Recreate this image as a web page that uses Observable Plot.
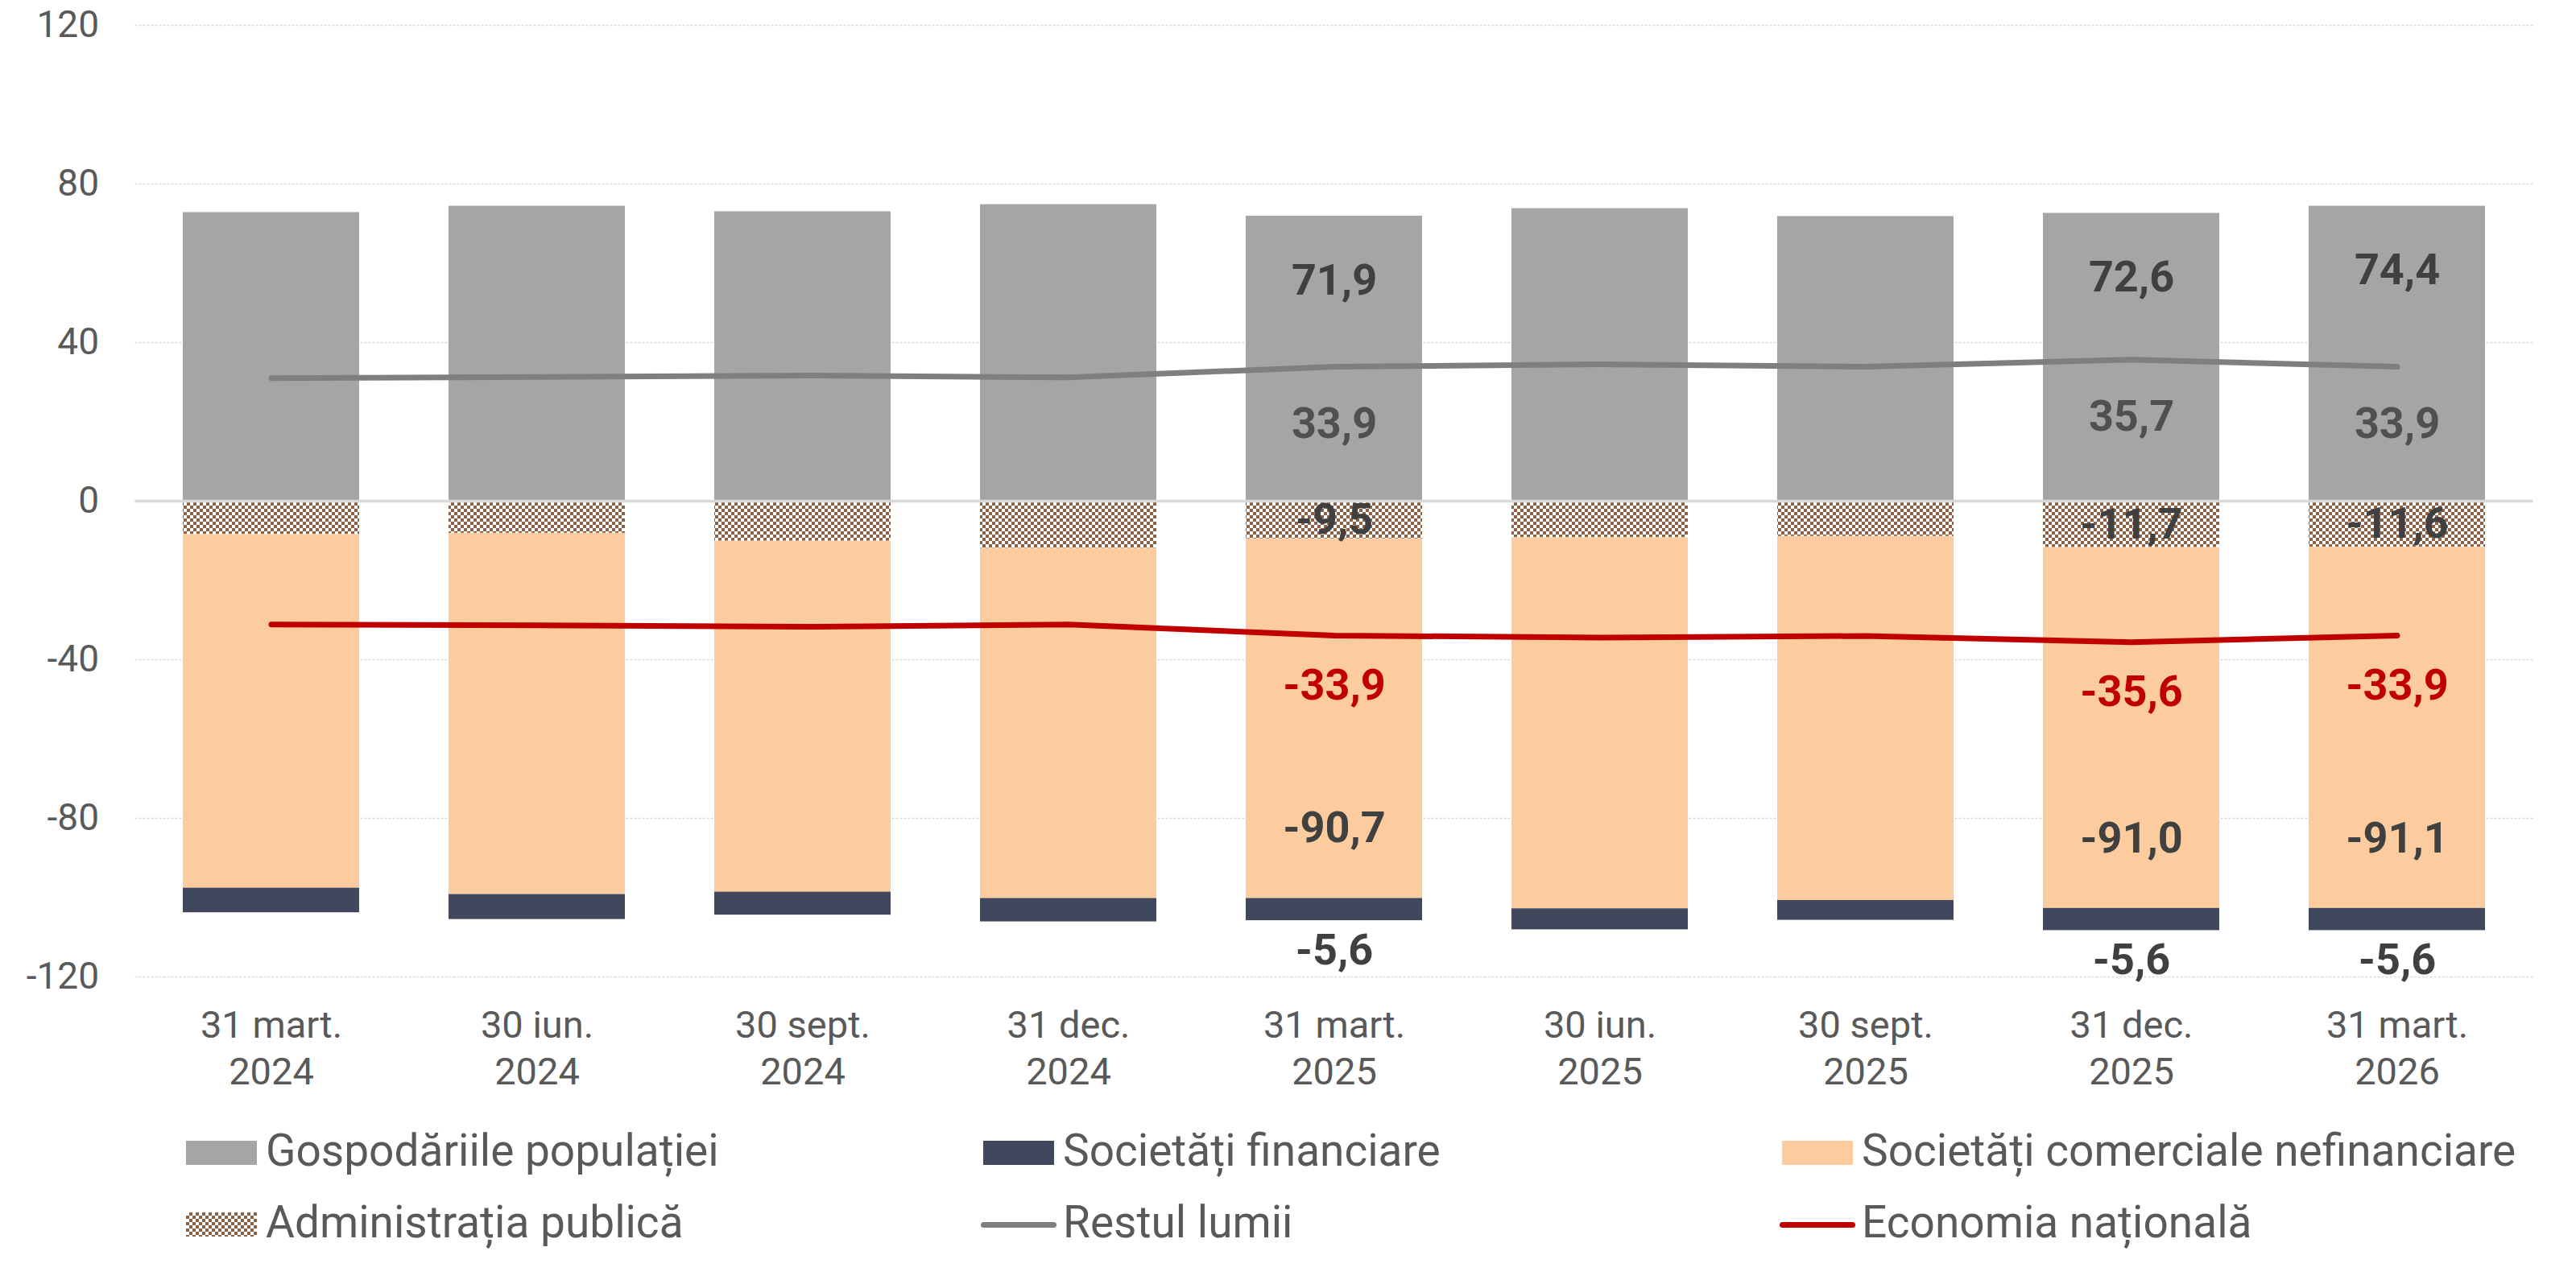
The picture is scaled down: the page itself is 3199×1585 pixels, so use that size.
<!DOCTYPE html>
<html><head><meta charset="utf-8">
<script src="https://cdn.jsdelivr.net/npm/d3@7"></script>
<script src="https://cdn.jsdelivr.net/npm/@observablehq/plot@0.6"></script>
<style>
body{margin:0;background:#fff;font-family:Roboto, sans-serif;}
#chart svg{display:block;}
#legend{position:relative;width:3199px;height:205px;}
.item{position:absolute;display:flex;align-items:center;height:60px;font-size:55px;line-height:60px;color:#595959;white-space:nowrap;}
.item span{position:relative;top:-3px;}
.sw{width:88px;height:30px;margin-right:11px;flex:none;}
.ln{width:94px;height:7px;border-radius:4px;margin-right:8px;flex:none;}
</style></head><body>
<div id="chart"></div><div id="legend"></div>
<script>
const categories = ["31 mart.\n2024","30 iun.\n2024","30 sept.\n2024","31 dec.\n2024","31 mart.\n2025","30 iun.\n2025","30 sept.\n2025","31 dec.\n2025","31 mart.\n2026"];
const seriesNames = ["Gospodăriile populației","Administrația publică","Societăți comerciale nefinanciare","Societăți financiare"];
const gospodarii    = [72.8, 74.4, 73.0, 74.8, 71.9, 73.8, 71.8, 72.6, 74.4];
const administratie = [-8.4, -8.1, -10.1, -11.9, -9.5, -9.2, -8.9, -11.7, -11.6];
const nefinanciare  = [-89.2, -91.1, -88.5, -88.3, -90.7, -93.6, -91.8, -91.0, -91.1];
const financiare    = [-6.2, -6.3, -5.8, -5.9, -5.6, -5.3, -5.0, -5.6, -5.6];
const restulLumii   = [31.0, 31.3, 31.7, 31.2, 33.9, 34.5, 33.9, 35.7, 33.9];
const economiaNationala = [-31.1, -31.3, -31.7, -31.1, -33.9, -34.4, -34.0, -35.6, -33.9];
const labeledIdx = [4, 7, 8];
const yTicks = [-120, -80, -40, 0, 40, 80, 120];

const colors = {
  "Gospodăriile populației": "#a5a5a5",
  "Administrația publică": "url(#adminPat)",
  "Societăți comerciale nefinanciare": "#fccc9f",
  "Societăți financiare": "#41475c"
};
const seriesValues = [gospodarii, administratie, nefinanciare, financiare];

const bars = [];
categories.forEach((c, i) => {
  seriesNames.forEach((s, k) => bars.push({cat: c, series: s, value: seriesValues[k][i]}));
});
const lineR = categories.map((c, i) => ({cat: c, v: restulLumii[i]}));
const lineE = categories.map((c, i) => ({cat: c, v: economiaNationala[i]}));

const fmt = v => v.toFixed(1).replace(".", ",");
const L = labeledIdx.map(i => ({
  cat: categories[i],
  gosp: gospodarii[i], gospT: fmt(gospodarii[i]),
  rest: restulLumii[i], restT: fmt(restulLumii[i]),
  admMid: administratie[i] / 2, admT: fmt(administratie[i]),
  nefBot: administratie[i] + nefinanciare[i], nefT: fmt(nefinanciare[i]),
  finBot: administratie[i] + nefinanciare[i] + financiare[i], finT: fmt(financiare[i]),
  econ: economiaNationala[i], econT: fmt(economiaNationala[i])
}));

const lblBase = {x: "cat", fontSize: 54, fontWeight: 700, fontFamily: "Roboto"};

const chart = Plot.plot({
  width: 3199,
  height: 1380,
  marginTop: 31,
  marginBottom: 167,
  marginLeft: 167.5,
  marginRight: 53.5,
  style: {fontFamily: "Roboto", background: "#fff"},
  x: {domain: categories, paddingInner: 0.335, paddingOuter: 0.1675, label: null},
  y: {domain: [-120, 120], label: null},
  color: {domain: seriesNames, range: seriesNames.map(s => colors[s])},
  marks: [
    Plot.ruleY(yTicks.filter(t => t !== 0), {stroke: "#d9d9d9", strokeWidth: 1.5, strokeDasharray: "3,2"}),
    Plot.axisY({ticks: yTicks, tickSize: 0, tickPadding: 45, fontSize: 46, fill: "#595959", tickFormat: d => String(d), label: null}),
    Plot.axisX({tickSize: 0, tickPadding: 35, fontSize: 47, fill: "#595959", lineHeight: 1.22, tickFormat: d => d, label: null}),
    Plot.barY(bars, Plot.stackY({x: "cat", y: "value", fill: "series", order: seriesNames, inset: 0})),
    Plot.ruleY([0], {stroke: "#d9d9d9", strokeWidth: 3.5}),
    Plot.line(lineR, {x: "cat", y: "v", stroke: "#7f7f7f", strokeWidth: 7, strokeLinecap: "round", strokeLinejoin: "round"}),
    Plot.line(lineE, {x: "cat", y: "v", stroke: "#c00000", strokeWidth: 7, strokeLinecap: "round", strokeLinejoin: "round"}),
    Plot.text(L, {...lblBase, y: "gosp", text: "gospT", dy: 80, fill: "#404040"}),
    Plot.text(L, {...lblBase, y: "rest", text: "restT", dy: 71, fill: "#505050"}),
    Plot.text(L, {...lblBase, y: "admMid", text: "admT", fill: "#404040"}),
    Plot.text(L, {...lblBase, y: "econ", text: "econT", dy: 62, fill: "#c00000"}),
    Plot.text(L, {...lblBase, y: "nefBot", text: "nefT", dy: -87, fill: "#404040"}),
    Plot.text(L, {...lblBase, y: "finBot", text: "finT", dy: 37, fill: "#404040"})
  ]
});

d3.select(chart).insert("defs", ":first-child").html(
  '<pattern id="adminPat" patternUnits="userSpaceOnUse" width="8" height="8">' +
  '<rect width="8" height="8" fill="#ffffff"/>' +
  '<rect width="4" height="4" fill="#8b6246"/>' +
  '<rect x="4" y="4" width="4" height="4" fill="#8b6246"/></pattern>'
);
document.getElementById("chart").appendChild(chart);

// Legend
const legendItems = [
  {name: "Gospodăriile populației", type: "box", color: "#a5a5a5", left: 231, row: 0},
  {name: "Societăți financiare", type: "box", color: "#41475c", left: 1221, row: 0},
  {name: "Societăți comerciale nefinanciare", type: "box", color: "#fccc9f", left: 2213, row: 0},
  {name: "Administrația publică", type: "pattern", left: 231, row: 1},
  {name: "Restul lumii", type: "line", color: "#7f7f7f", left: 1218, row: 1},
  {name: "Economia națională", type: "line", color: "#c00000", left: 2210, row: 1}
];
const rowCenters = [52, 141];
const leg = document.getElementById("legend");
legendItems.forEach(it => {
  const d = document.createElement("div");
  d.className = "item";
  d.style.left = it.left + "px";
  d.style.top = (rowCenters[it.row] - 30) + "px";
  const sw = document.createElement("div");
  if (it.type === "line") {
    sw.className = "ln";
    sw.style.background = it.color;
  } else {
    sw.className = "sw";
    if (it.type === "pattern") {
      sw.style.background = "repeating-conic-gradient(#8b6246 0 25%, #ffffff 0 50%) 0 0/8px 8px";
    } else {
      sw.style.background = it.color;
    }
  }
  const t = document.createElement("span");
  t.textContent = it.name;
  d.appendChild(sw); d.appendChild(t);
  leg.appendChild(d);
});
</script>
</body></html>
